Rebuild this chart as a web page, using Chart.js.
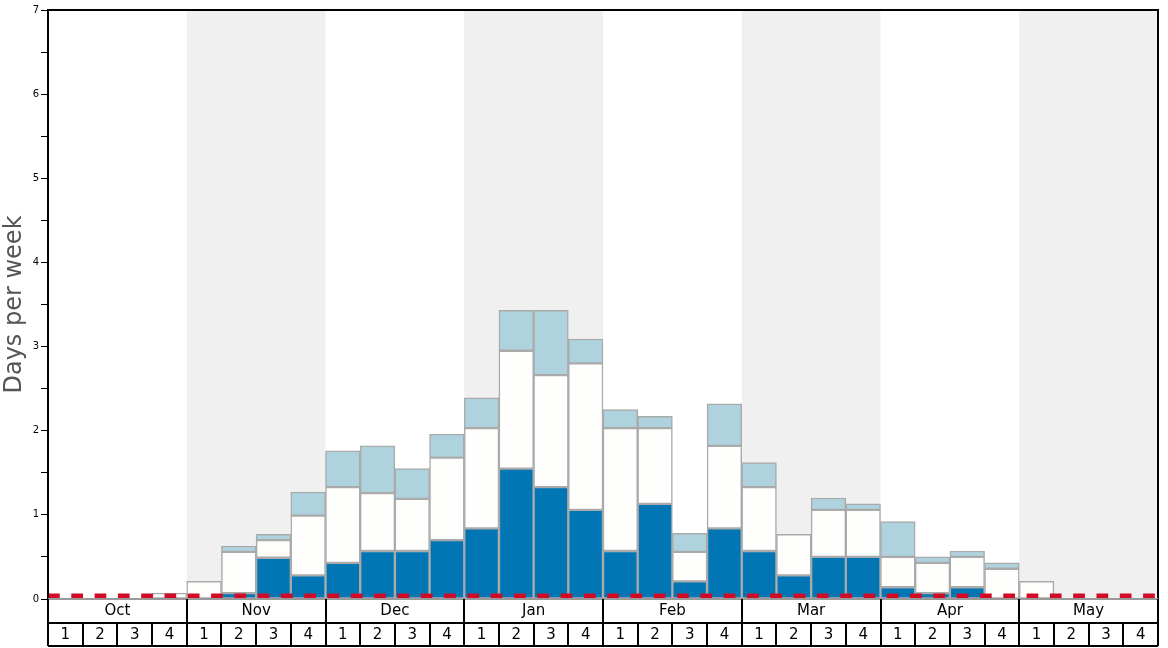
<!DOCTYPE html>
<html>
<head>
<meta charset="utf-8">
<style>
  body { margin: 0; background: #fff; }
  #wrap { width: 1168px; height: 648px; }
</style>
<script src="https://cdn.jsdelivr.net/npm/chart.js@4.4.0/dist/chart.umd.min.js"></script>
</head>
<body>
<div id="wrap"><canvas id="chart" width="1168" height="648"></canvas></div>
<script>
const months = ['Oct', 'Nov', 'Dec', 'Jan', 'Feb', 'Mar', 'Apr', 'May'];
const weekLabels = months.flatMap(() => ['1', '2', '3', '4']);

// stacked segments, bottom to top (days per week)
const darkDays = [
  0, 0, 0, 0,
  0, 0.07, 0.49, 0.28,
  0.43, 0.57, 0.57, 0.70,
  0.84, 1.55, 1.33, 1.06,
  0.57, 1.13, 0.21, 0.84,
  0.57, 0.28, 0.50, 0.50,
  0.14, 0.07, 0.14, 0,
  0, 0, 0, 0
];
const whiteDays = [
  0, 0, 0, 0.07,
  0.21, 0.49, 0.21, 0.71,
  0.90, 0.69, 0.62, 0.98,
  1.19, 1.40, 1.33, 1.74,
  1.46, 0.90, 0.35, 0.98,
  0.76, 0.49, 0.56, 0.56,
  0.36, 0.36, 0.36, 0.36,
  0.21, 0, 0, 0
];
const lightDays = [
  0, 0, 0, 0,
  0, 0.07, 0.07, 0.28,
  0.43, 0.56, 0.36, 0.28,
  0.36, 0.48, 0.77, 0.29,
  0.22, 0.14, 0.22, 0.50,
  0.29, 0, 0.14, 0.07,
  0.42, 0.07, 0.07, 0.07,
  0, 0, 0, 0
];
const threshold = 0.036;
const yTicks = [0, 1, 2, 3, 4, 5, 6, 7];

const FONT = 'DejaVu Sans';

// grey bands behind every other month
const bandsPlugin = {
  id: 'bands',
  beforeDatasetsDraw(chart) {
    const {ctx, chartArea} = chart;
    const xm = chart.scales.xm;
    const w = (xm.right - xm.left) / months.length;
    ctx.save();
    ctx.fillStyle = '#f0f0f0';
    months.forEach((m, i) => {
      if (i % 2 === 1) {
        const cx = xm.getPixelForTick(i);
        ctx.fillRect(cx - w / 2, chartArea.top, w, chartArea.bottom - chartArea.top);
      }
    });
    ctx.restore();
  }
};

// red dashed threshold across the whole plot
const thresholdPlugin = {
  id: 'threshold',
  afterDatasetsDraw(chart) {
    const {ctx, chartArea} = chart;
    const py = chart.scales.y.getPixelForValue(threshold);
    ctx.save();
    ctx.strokeStyle = '#d20a25';
    ctx.lineWidth = 5;
    ctx.setLineDash([11.7, 11.6]);
    ctx.beginPath();
    ctx.moveTo(chartArea.left, py);
    ctx.lineTo(chartArea.right, py);
    ctx.stroke();
    ctx.restore();
  }
};

// frame + the month/week table under the plot
const framePlugin = {
  id: 'frame',
  afterDraw(chart) {
    const {ctx, chartArea} = chart;
    const x = chart.scales.x, xm = chart.scales.xm;
    ctx.save();
    ctx.lineWidth = 2;
    ctx.strokeStyle = '#000';
    ctx.beginPath();
    ctx.moveTo(chartArea.left, chartArea.bottom);
    ctx.lineTo(chartArea.left, chartArea.top);
    ctx.lineTo(chartArea.right, chartArea.top);
    ctx.lineTo(chartArea.right, chartArea.bottom);
    ctx.stroke();

    ctx.strokeStyle = '#999';
    ctx.beginPath();
    ctx.moveTo(chartArea.left, chartArea.bottom);
    ctx.lineTo(chartArea.right, chartArea.bottom);
    ctx.stroke();

    ctx.strokeStyle = '#000';
    ctx.beginPath();
    const mw = (xm.right - xm.left) / months.length;
    for (let i = 0; i <= months.length; i++) {
      const px = Math.round(xm.left + i * mw);
      ctx.moveTo(px, xm.top);
      ctx.lineTo(px, xm.bottom);
    }
    const ww = (x.right - x.left) / weekLabels.length;
    for (let i = 0; i <= weekLabels.length; i++) {
      const px = Math.round(x.left + i * ww);
      ctx.moveTo(px, x.top);
      ctx.lineTo(px, x.bottom - 1);
    }
    ctx.moveTo(x.left, x.top);
    ctx.lineTo(x.right, x.top);
    ctx.moveTo(x.left, x.bottom - 1);
    ctx.lineTo(x.right, x.bottom - 1);
    ctx.stroke();
    ctx.restore();
  }
};

const barStyle = {
  borderColor: '#aaaaaa',
  borderWidth: 1.5,
  borderSkipped: false,
  barPercentage: 1,
  categoryPercentage: 1,
  stack: 'days'
};

const tableTicks = {font: {family: FONT, size: 15}, color: '#000', padding: 3, maxRotation: 0, autoSkip: false};

new Chart(document.getElementById('chart'), {
  type: 'bar',
  data: {
    labels: weekLabels,
    datasets: [
      {...barStyle, label: 'dark', data: darkDays, backgroundColor: '#0276b5'},
      {...barStyle, label: 'white', data: whiteDays, backgroundColor: '#fefefd'},
      {...barStyle, label: 'light', data: lightDays, backgroundColor: '#aed3df'}
    ]
  },
  plugins: [bandsPlugin, thresholdPlugin, framePlugin],
  options: {
    responsive: false,
    animation: false,
    devicePixelRatio: 1,
    layout: {padding: {left: 0, right: 10, top: 10, bottom: 1}},
    plugins: {legend: {display: false}, tooltip: {enabled: false}},
    scales: {
      x: {
        type: 'category',
        position: 'bottom',
        weight: 1,
        stacked: true,
        offset: true,
        grid: {display: false, drawTicks: false},
        border: {display: false},
        ticks: tableTicks,
        afterFit: s => { s.height = 24; }
      },
      xm: {
        type: 'category',
        labels: months,
        position: 'bottom',
        weight: 0,
        offset: true,
        grid: {display: false, drawTicks: false},
        border: {display: false},
        ticks: tableTicks,
        afterFit: s => { s.height = 24; }
      },
      y: {
        stacked: true,
        min: yTicks[0],
        max: yTicks[yTicks.length - 1],
        grid: {drawOnChartArea: false, color: '#000', tickLength: 7, tickWidth: 1},
        border: {display: true, color: '#000', width: 2},
        ticks: {
          stepSize: 0.5,
          font: {family: FONT, size: 10},
          color: '#000',
          padding: 2,
          callback: v => yTicks.includes(v) ? String(v) : ''
        },
        title: {
          display: true,
          text: 'Days per week',
          font: {family: FONT, size: 24},
          color: '#555',
          padding: 0
        },
        afterFit: s => { s.width = 48; }
      }
    }
  }
});
</script>
</body>
</html>
